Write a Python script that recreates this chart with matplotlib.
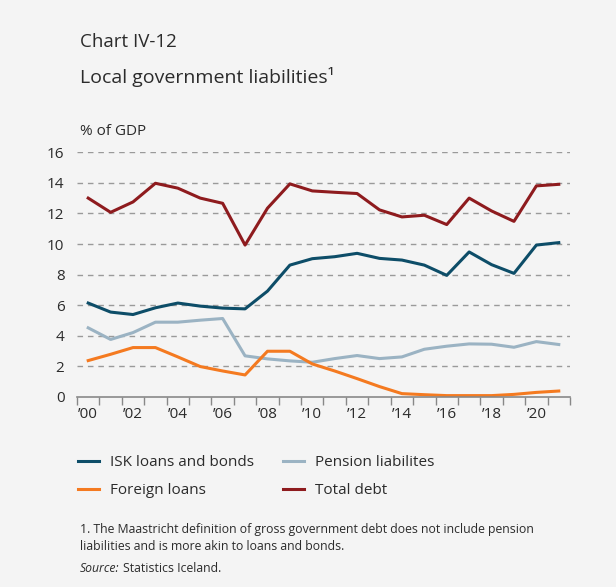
import numpy as np
import matplotlib.pyplot as plt

# Data (% of GDP)
years = list(range(2000, 2022))
isk_loans = [6.14, 5.55, 5.39, 5.83, 6.14, 5.94, 5.81, 5.76, 6.92, 8.62, 9.04,
             9.17, 9.39, 9.06, 8.95, 8.62, 7.95, 9.48, 8.65, 8.08, 9.93, 10.09]
pension = [4.52, 3.76, 4.21, 4.89, 4.89, 5.02, 5.13, 2.69, 2.49, 2.36, 2.27,
           2.51, 2.71, 2.51, 2.62, 3.12, 3.32, 3.47, 3.45, 3.25, 3.62, 3.43]
foreign = [2.38, 2.79, 3.23, 3.23, 2.62, 1.99, 1.70, 1.44, 2.99, 2.99, 2.16,
           1.70, 1.20, 0.68, 0.22, 0.15, 0.09, 0.09, 0.09, 0.17, 0.30, 0.39]
total_debt = [13.0, 12.07, 12.75, 13.97, 13.65, 13.0, 12.66, 9.93, 12.34, 13.93, 13.47,
              13.38, 13.3, 12.23, 11.77, 11.88, 11.27, 13.0, 12.16, 11.48, 13.8, 13.9]
yticks = [0, 2, 4, 6, 8, 10, 12, 14, 16]

bg = '#f4f4f4'
c_isk = '#0d4d68'
c_pension = '#9bb3c3'
c_foreign = '#f47a20'
c_total = '#8e1b1e'
txt = '#2b2b2b'

plt.rcParams['font.family'] = ['Open Sans', 'DejaVu Sans']

fig = plt.figure(figsize=(6.16, 5.87), dpi=100, facecolor=bg)
ax = fig.add_axes([0.125, 0.3237, 0.8003, 0.4170], facecolor=bg)

x = np.arange(len(years))
l_isk, = ax.plot(x, isk_loans, color=c_isk, lw=2.2)
l_pen, = ax.plot(x, pension, color=c_pension, lw=2.2)
l_for, = ax.plot(x, foreign, color=c_foreign, lw=2.2)
l_tot, = ax.plot(x, total_debt, color=c_total, lw=2.2)

ax.set_xlim(-0.5, len(years) - 0.5)
ax.set_ylim(0, 16)
ax.set_yticks(yticks)
ax.set_yticklabels([str(v) for v in yticks], fontsize=11, color=txt)
ax.tick_params(axis='y', length=0, pad=9)
for v in yticks[1:]:
    ax.axhline(v, color='#9a9a9a', lw=1.0, ls=(0, (4, 3.5)), zorder=0)

# ticks at boundaries, labels at every other year
ax.set_xticks(np.arange(-0.5, len(years), 1.0))
ax.set_xticklabels([])
ax.tick_params(axis='x', which='major', length=6, width=1.0, color='#888888', direction='out')
ax.set_xticks(x[::2], minor=True)
ax.set_xticklabels(['\u2019' + str(y)[2:] for y in years[::2]], minor=True, fontsize=11, color=txt)
ax.tick_params(axis='x', which='minor', length=0, pad=7)

for s in ['top', 'right', 'left']:
    ax.spines[s].set_visible(False)
ax.spines['bottom'].set_color('#888888')
ax.spines['bottom'].set_linewidth(1.2)

fig.text(80 / 616, 1 - 42 / 587, 'Chart IV-12', fontsize=13.5, color=txt, va='center')
fig.text(80 / 616, 1 - 77 / 587, 'Local government liabilities\u00b9', fontsize=14, color=txt, va='center')
fig.text(80 / 616, 1 - 131 / 587, '% of GDP', fontsize=11, color=txt, va='center')

handles = [l_isk, l_for, l_pen, l_tot]
labels = ['ISK loans and bonds', 'Foreign loans', 'Pension liabilites', 'Total debt']
fig.legend(handles, labels, ncol=2, loc='upper left', bbox_to_anchor=(72 / 616, 1 - 449 / 587),
           frameon=False, fontsize=11, handlelength=1.35, handletextpad=0.75,
           columnspacing=1.9, labelspacing=0.85, labelcolor=txt, borderaxespad=0)

fig.text(80 / 616, 1 - 530 / 587, '1. The Maastricht definition of gross government debt does not include pension',
         fontsize=8.85, color=txt, va='center')
fig.text(80 / 616, 1 - 547 / 587, 'liabilities and is more akin to loans and bonds.',
         fontsize=8.85, color=txt, va='center')
src = fig.text(80 / 616, 1 - 569 / 587, 'Source:', fontsize=8.85, color=txt, va='center', style='italic')
fig.canvas.draw()
bb = src.get_window_extent()
fig.text((bb.x1 + 3) / 616, 1 - 569 / 587, 'Statistics Iceland.', fontsize=8.85, color=txt, va='center')

fig.savefig('out.png', dpi=100, facecolor=bg)
